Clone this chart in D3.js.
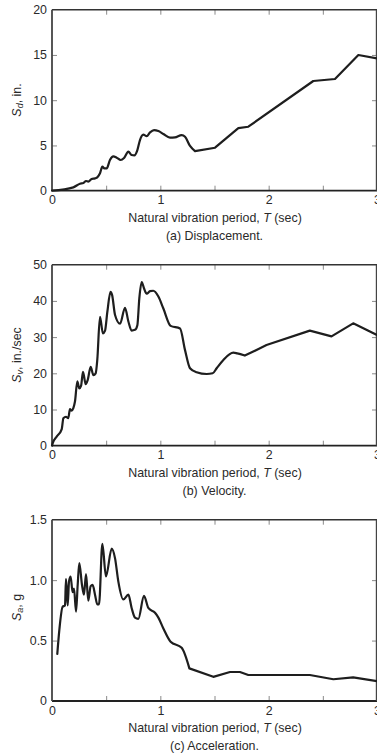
<!DOCTYPE html>
<html>
<head>
<meta charset="utf-8">
<script src="https://cdn.jsdelivr.net/npm/d3@7"></script>
<style>
  html, body { margin: 0; padding: 0; background: #fff; }
  svg { display: block; }
  text { font-family: "Liberation Sans", Arial, Helvetica, sans-serif; fill: #2a2a2a; }
</style>
</head>
<body>
<svg id="chart" width="377" height="755"></svg>
<script>
// ---- data ----
const xTickLabels = [0, 1, 2, 3];
const xMinorTicks = [0.5, 1, 1.5, 2, 2.5];

const dispT = [0, 0.197, 0.258, 0.29, 0.314, 0.335, 0.366, 0.397, 0.418, 0.443, 0.465, 0.483, 0.505, 0.535, 0.566, 0.597, 0.634, 0.665, 0.705, 0.735, 0.76, 0.788, 0.812, 0.843, 0.874, 0.905, 0.942, 0.982, 1.028, 1.089, 1.135, 1.197, 1.228, 1.274, 1.32, 1.505, 1.72, 1.812, 2.412, 2.612, 2.828, 3.0];
const dispSd = [0, 0.37, 0.77, 0.85, 1.07, 1.0, 1.29, 1.36, 1.47, 1.92, 2.65, 2.47, 2.47, 3.39, 3.79, 3.65, 3.39, 3.61, 4.31, 3.94, 3.9, 4.49, 5.6, 6.19, 6.04, 6.45, 6.70, 6.59, 6.26, 5.86, 5.89, 6.15, 5.97, 4.94, 4.38, 4.75, 6.92, 7.07, 12.12, 12.34, 14.99, 14.62];
const dispTicks = [0, 5, 10, 15, 20];

const velT = [0, 0.006, 0.043, 0.09, 0.105, 0.129, 0.15, 0.166, 0.18, 0.197, 0.212, 0.234, 0.252, 0.268, 0.286, 0.311, 0.33, 0.357, 0.382, 0.403, 0.418, 0.443, 0.47, 0.489, 0.511, 0.54, 0.555, 0.582, 0.628, 0.674, 0.705, 0.735, 0.766, 0.788, 0.806, 0.828, 0.849, 0.874, 0.905, 0.935, 0.982, 1.028, 1.095, 1.182, 1.228, 1.274, 1.335, 1.428, 1.483, 1.52, 1.582, 1.674, 1.71, 1.78, 1.858, 1.98, 2.38, 2.58, 2.78, 3.0];
const velSv = [0, 0.66, 2.5, 4.6, 7.6, 8.0, 7.6, 10.1, 9.7, 10.4, 12.2, 17.8, 15.8, 16.5, 20.4, 17.0, 18.2, 21.8, 19.5, 20.0, 23.7, 35.6, 31.0, 31.7, 37.0, 42.5, 41.6, 36.1, 33.7, 38.1, 34.3, 31.8, 32.0, 33.3, 40.7, 45.2, 43.5, 42.0, 42.7, 42.8, 41.2, 37.9, 33.1, 32.4, 26.4, 21.4, 20.3, 19.8, 20.0, 21.4, 23.7, 25.7, 25.5, 24.9, 26.0, 27.8, 31.8, 30.2, 33.8, 30.6];
const velTicks = [0, 10, 20, 30, 40, 50];

const accT = [0.049, 0.068, 0.098, 0.12, 0.129, 0.145, 0.157, 0.172, 0.19, 0.203, 0.222, 0.237, 0.252, 0.277, 0.295, 0.314, 0.335, 0.357, 0.375, 0.397, 0.418, 0.434, 0.465, 0.498, 0.551, 0.582, 0.612, 0.658, 0.705, 0.735, 0.766, 0.797, 0.849, 0.889, 0.951, 0.982, 1.028, 1.095, 1.197, 1.268, 1.489, 1.643, 1.735, 1.812, 2.38, 2.597, 2.78, 3.0];
const accSa = [0.39, 0.59, 0.78, 0.79, 1.01, 0.79, 0.99, 1.03, 0.90, 0.93, 0.74, 0.96, 1.14, 0.96, 0.88, 1.05, 0.83, 0.95, 0.96, 0.88, 0.80, 0.80, 1.30, 1.03, 1.26, 1.18, 0.99, 0.84, 0.88, 0.77, 0.69, 0.68, 0.87, 0.77, 0.73, 0.69, 0.60, 0.49, 0.44, 0.27, 0.20, 0.24, 0.24, 0.215, 0.215, 0.18, 0.196, 0.165];
const accTicks = [0, 0.5, 1.0, 1.5];
const accTickText = ["0", "0.5", "1.0", "1.5"];

const xTitle = "Natural vibration period, ";
const captions = ["(a) Displacement.", "(b) Velocity.", "(c) Acceleration."];

// ---- layout ----
const svg = d3.select("#chart");
const left = 52, right = 377;
const x = d3.scaleLinear().domain([0, 3]).range([left, right]);
const FS = 12.4;

const panels = [
  { T: dispT, V: dispSd, ticks: dispTicks, tickText: dispTicks.map(String), max: 20, top: 9.7, bottom: 190.7,
    sym: "S", sub: "d", unit: ", in.", titleY: 100, linFrom: 1.32, cap: captions[0] },
  { T: velT, V: velSv, ticks: velTicks, tickText: velTicks.map(String), max: 50, top: 264.7, bottom: 445.7,
    sym: "S", sub: "v", unit: ", in./sec", titleY: 355, linFrom: 1.78, cap: captions[1] },
  { T: accT, V: accSa, ticks: accTicks, tickText: accTickText, max: 1.5, top: 519.7, bottom: 701,
    sym: "S", sub: "a", unit: ", g", titleY: 607.5, linFrom: 1.268, cap: captions[2] }
];

panels.forEach(p => {
  const y = d3.scaleLinear().domain([0, p.max]).range([p.bottom, p.top]);
  const g = svg.append("g");

  const tickStyle = sel => {
    sel.select(".domain").remove();
    sel.selectAll(".tick line").attr("stroke", "#8a8a8a").attr("stroke-width", 1);
    sel.selectAll(".tick text").remove();
  };
  g.append("g").attr("transform", `translate(0,${p.bottom})`)
    .call(d3.axisBottom(x).tickValues(xMinorTicks).tickSize(-5)).call(tickStyle);
  g.append("g").attr("transform", `translate(0,${p.top})`)
    .call(d3.axisTop(x).tickValues(xMinorTicks).tickSize(-5)).call(tickStyle);
  const inner = p.ticks.slice(1, -1);
  g.append("g").attr("transform", `translate(${left},0)`)
    .call(d3.axisLeft(y).tickValues(inner).tickSize(-5)).call(tickStyle);
  g.append("g").attr("transform", `translate(${right},0)`)
    .call(d3.axisRight(y).tickValues(inner).tickSize(-5)).call(tickStyle);

  // frame
  g.append("line").attr("x1", left).attr("x2", right).attr("y1", p.top).attr("y2", p.top)
    .attr("stroke", "#333").attr("stroke-width", 1.4);
  g.append("line").attr("x1", left).attr("x2", right).attr("y1", p.bottom).attr("y2", p.bottom)
    .attr("stroke", "#222").attr("stroke-width", 1.8);
  g.append("line").attr("x1", left).attr("x2", left).attr("y1", p.top).attr("y2", p.bottom)
    .attr("stroke", "#444").attr("stroke-width", 1.8);
  g.append("line").attr("x1", right - 0.5).attr("x2", right - 0.5).attr("y1", p.top).attr("y2", p.bottom)
    .attr("stroke", "#444").attr("stroke-width", 1.4);

  // y tick labels
  const yl = g.append("g").attr("transform", `translate(${left},0)`)
    .call(d3.axisLeft(y).tickValues(p.ticks).tickSize(0).tickPadding(5)
      .tickFormat((d, i) => p.tickText[i]));
  yl.select(".domain").remove();
  yl.selectAll(".tick text").attr("font-size", FS).attr("fill", "#2a2a2a")
    .style("font-family", '"Liberation Sans", Arial, sans-serif');

  // x tick labels
  const xl = g.append("g").attr("transform", `translate(0,${p.bottom})`)
    .call(d3.axisBottom(x).tickValues(xTickLabels).tickSize(0).tickPadding(4.7)
      .tickFormat(d3.format("d")));
  xl.select(".domain").remove();
  xl.selectAll(".tick text").attr("font-size", FS).attr("fill", "#2a2a2a")
    .style("font-family", '"Liberation Sans", Arial, sans-serif');

  // curve: smooth part, then straight segments
  const idx = d3.range(p.T.length);
  const split = p.T.findIndex(t => t >= p.linFrom);
  const smooth = d3.line().x(i => x(p.T[i])).y(i => y(p.V[i])).curve(d3.curveMonotoneX);
  const straight = d3.line().x(i => x(p.T[i])).y(i => y(p.V[i]));
  const d = smooth(idx.slice(0, split + 1)) + straight(idx.slice(split)).replace(/^M/, "L");
  g.append("path").attr("d", d)
    .attr("fill", "none").attr("stroke", "#1e1e1e").attr("stroke-width", 2.2)
    .attr("stroke-linejoin", "round").attr("stroke-linecap", "round");

  // y title
  const yt = g.append("text")
    .attr("transform", `translate(17,${p.titleY}) rotate(-90)`)
    .attr("text-anchor", "middle").attr("dominant-baseline", "central")
    .attr("font-size", FS);
  yt.append("tspan").attr("font-style", "italic").text(p.sym);
  yt.append("tspan").attr("font-style", "italic").attr("font-size", 9).attr("dy", 3).text(p.sub);
  yt.append("tspan").attr("dy", -3).text(p.unit);

  // x title
  const xt = g.append("text").attr("x", 215).attr("y", p.bottom + 30.8)
    .attr("text-anchor", "middle").attr("font-size", FS);
  xt.append("tspan").text(xTitle);
  xt.append("tspan").attr("font-style", "italic").text("T");
  xt.append("tspan").text(" (sec)");

  // caption
  g.append("text").attr("x", 214.5).attr("y", p.bottom + 49.2)
    .attr("text-anchor", "middle").attr("font-size", FS).text(p.cap);
});
</script>
</body>
</html>
